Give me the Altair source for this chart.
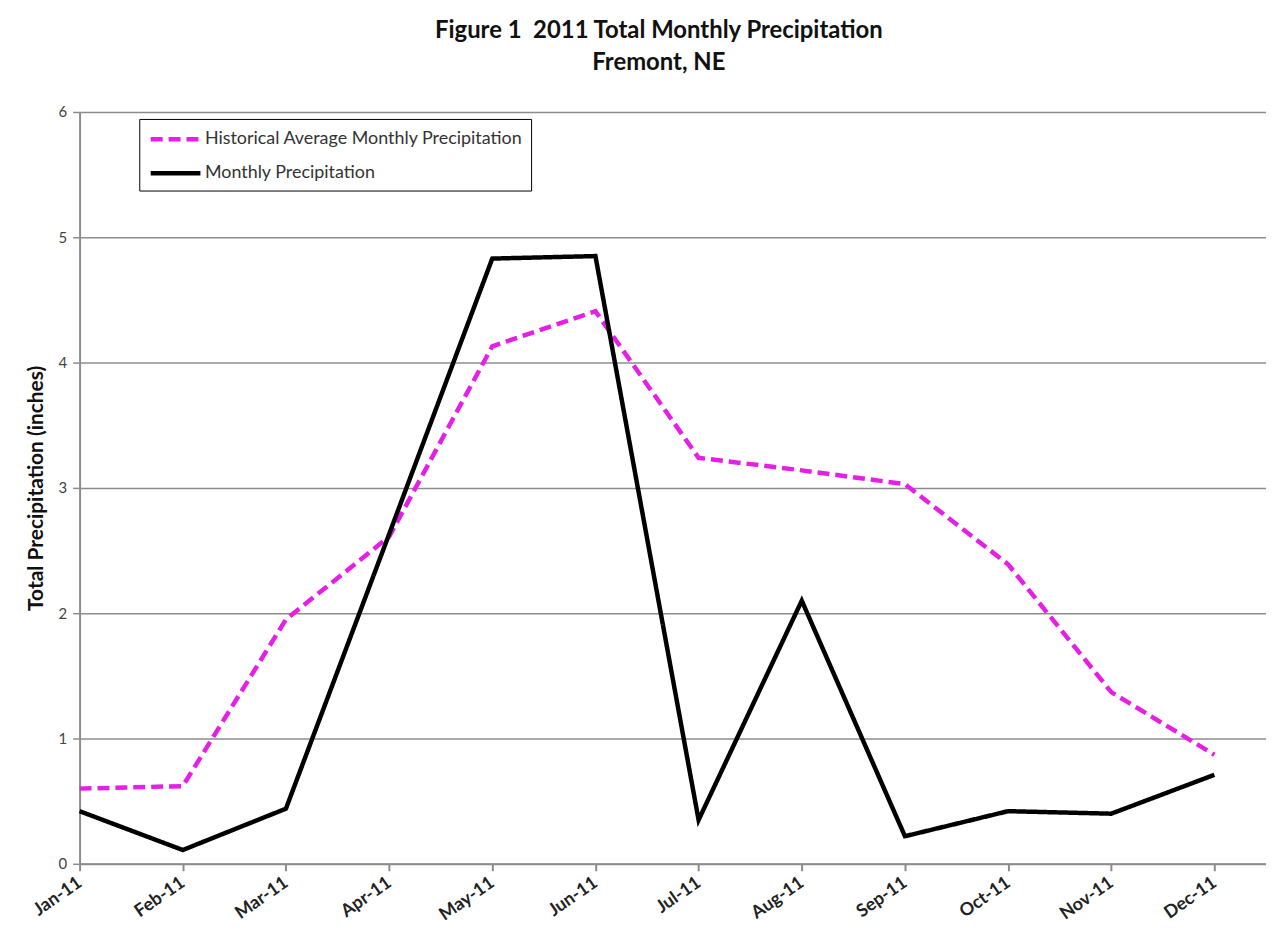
import altair as alt
import pandas as pd

months = ["Jan-11", "Feb-11", "Mar-11", "Apr-11", "May-11", "Jun-11",
          "Jul-11", "Aug-11", "Sep-11", "Oct-11", "Nov-11", "Dec-11"]
historical = [0.60, 0.62, 1.95, 2.61, 4.13, 4.41, 3.24, 3.14, 3.03, 2.39, 1.37, 0.87]
monthly = [0.42, 0.11, 0.44, 2.63, 4.83, 4.85, 0.35, 2.10, 0.22, 0.42, 0.40, 0.71]

series_names = ["Historical Average Monthly Precipitation", "Monthly Precipitation"]

rows = []
for i, m in enumerate(months):
    rows.append({"idx": i, "month": m, "value": historical[i], "series": series_names[0]})
for i, m in enumerate(months):
    rows.append({"idx": i, "month": m, "value": monthly[i], "series": series_names[1]})
df = pd.DataFrame(rows)

label_expr = "[" + ",".join("'%s'" % m for m in months) + "][datum.value]"

FONT = "Lato"

chart = alt.Chart(df).mark_line(strokeWidth=4.5, strokeCap="butt", strokeJoin="miter").encode(
    x=alt.X("idx:Q",
            scale=alt.Scale(domain=[0, 11.5], nice=False, zero=False),
            axis=alt.Axis(values=list(range(12)), labelExpr=label_expr, title=None,
                          grid=False, labelAngle=-35, labelAlign="right", labelBaseline="middle",
                          labelFontWeight="bold", labelFontSize=18, labelColor="#222222",
                          labelFont=FONT, labelPadding=10,
                          domainColor="#8c8c8c", domainWidth=2,
                          tickColor="#8c8c8c", tickWidth=2, tickSize=7)),
    y=alt.Y("value:Q",
            scale=alt.Scale(domain=[0, 6], nice=False),
            axis=alt.Axis(values=[0, 1, 2, 3, 4, 5, 6], format="d",
                          title="Total Precipitation (inches)",
                          titleFont=FONT, titleFontSize=21, titleFontWeight="bold",
                          titleColor="#111111", titlePadding=12,
                          labelFont=FONT, labelFontSize=15, labelColor="#444444",
                          labelPadding=6,
                          grid=True, gridColor="#8c8c8c", gridWidth=1.5,
                          domainColor="#8c8c8c", domainWidth=2,
                          tickColor="#8c8c8c", tickWidth=1.5, tickSize=7)),
    color=alt.Color("series:N",
                    scale=alt.Scale(domain=series_names, range=["#e61ee6", "#000000"]),
                    legend=alt.Legend(title=None, orient="none", legendX=60, legendY=7,
                                      direction="vertical",
                                      strokeColor="#000000", fillColor="#ffffff",
                                      padding=8, rowPadding=12,
                                      symbolType="M-1,0L4,0", symbolSize=400,
                                      symbolStrokeWidth=4.5, symbolOffset=1,
                                      labelFont=FONT, labelFontSize=18, labelColor="#333333",
                                      labelLimit=600, labelOffset=32)),
    strokeDash=alt.StrokeDash("series:N",
                              scale=alt.Scale(domain=series_names, range=[[12, 6], [1, 0]]),
                              legend=None),
    order=alt.Order("idx:Q"),
).properties(
    width=1193,
    height=756,
    padding={"left": 72, "top": 102, "right": 0, "bottom": 62},
    autosize=alt.AutoSizeParams(type="none"),
    title=alt.TitleParams(
        text=["Figure 1\u00a0 2011 Total Monthly Precipitation", "Fremont, NE"],
        font=FONT, fontSize=24, fontWeight="bold", color="#111111",
        anchor="middle", dx=-14, offset=30, lineHeight=32,
    ),
).configure_view(stroke=None).configure(background="#ffffff")

chart.save("out.html", embed_options={"renderer": "svg", "actions": False})
